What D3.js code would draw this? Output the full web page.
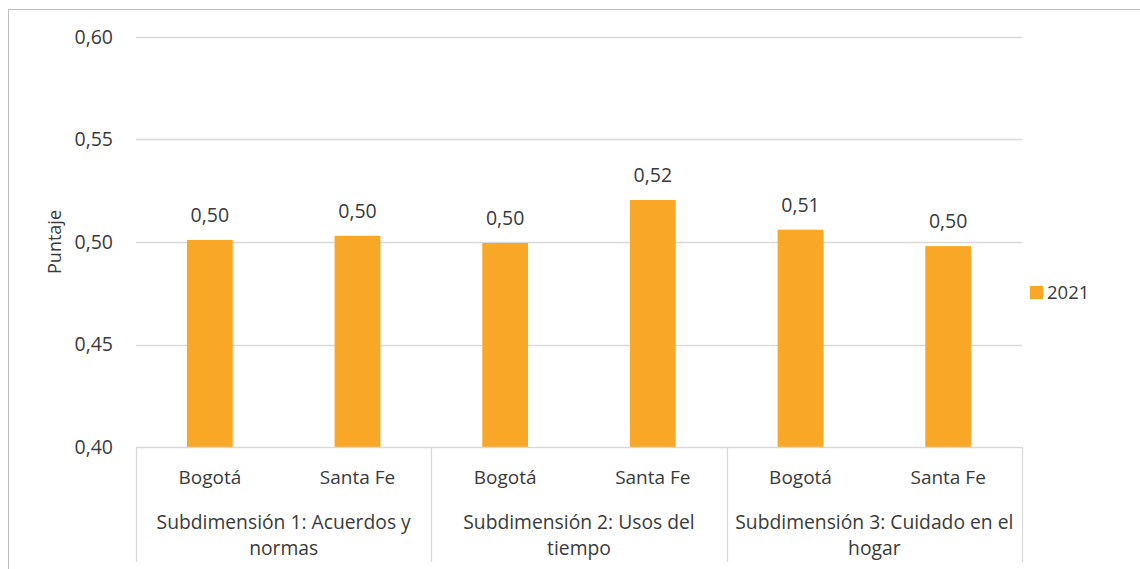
<!DOCTYPE html>
<html><head><meta charset="utf-8">
<script src="https://cdn.jsdelivr.net/npm/d3@7"></script>
<style>
html,body{margin:0;padding:0;background:#fff;}
svg{display:block;font-family:"Open Sans",sans-serif;}
</style></head>
<body><svg id="c" width="1140" height="569"></svg>
<script>
const categories = ["Bogotá","Santa Fe","Bogotá","Santa Fe","Bogotá","Santa Fe"];
const groupIndex = [0,0,1,1,2,2];
const groups = [
  ["Subdimensión 1: Acuerdos y","normas"],
  ["Subdimensión 2: Usos del","tiempo"],
  ["Subdimensión 3: Cuidado en el","hogar"]
];
const values2021 = [0.501,0.503,0.4995,0.5205,0.506,0.498];
const dataLabels = ["0,50","0,50","0,50","0,52","0,51","0,50"];
const yTicks = [0.40,0.45,0.50,0.55,0.60];
const seriesName = "2021";

const svg = d3.select("#c");
const textCol = "#3a3a3a";
const barCol = "#F8A826";
const gridCol = "#d9d9d9";

// outer border
svg.append("rect").attr("x",8.5).attr("y",9.5).attr("width",1140).attr("height",600)
  .attr("fill","none").attr("stroke","#bfbfbf").attr("stroke-width",1);

const pLeft = 136, pRight = 1022, pTop = 37, pBottom = 447;
const y = d3.scaleLinear().domain([0.40,0.60]).range([pBottom, pTop]);
const idx = categories.map((d,i)=>i);
const x = d3.scaleBand().domain(idx).range([pLeft,pRight]).paddingInner(0.69).paddingOuter(0.345);
const xg = d3.scaleBand().domain([0,1,2]).range([pLeft,pRight]).padding(0);

// gridlines
svg.append("g").selectAll("line").data(yTicks.slice(1)).join("line")
  .attr("x1",pLeft).attr("x2",pRight)
  .attr("y1",d=>Math.round(y(d))+0.5).attr("y2",d=>Math.round(y(d))+0.5)
  .attr("stroke",gridCol).attr("stroke-width",1.3);

// y tick labels
const fmt = d => d.toFixed(2).replace(".",",");
svg.append("g").selectAll("text").data(yTicks).join("text")
  .attr("x",113).attr("y",d=>y(d)).attr("dy","0.35em")
  .attr("text-anchor","end").attr("font-size",19.5).attr("fill",textCol)
  .text(fmt);

// bars
svg.append("g").selectAll("rect").data(values2021).join("rect")
  .attr("x",(d,i)=>x(i)).attr("width",x.bandwidth())
  .attr("y",d=>y(d)).attr("height",d=>pBottom-y(d))
  .attr("fill",barCol);

// data labels
svg.append("g").selectAll("text").data(values2021).join("text")
  .attr("x",(d,i)=>x(i)+x.bandwidth()/2).attr("y",d=>y(d)-25).attr("dy","0.35em")
  .attr("text-anchor","middle").attr("font-size",19.5).attr("fill",textCol)
  .text((d,i)=>dataLabels[i]);

// x axis line
svg.append("line").attr("x1",pLeft).attr("x2",pRight).attr("y1",pBottom+0.5).attr("y2",pBottom+0.5)
  .attr("stroke",gridCol).attr("stroke-width",1.3);
// group separators
const seps = [0,1,2].map(g=>xg(g)).concat([pRight]);
svg.append("g").selectAll("line").data(seps).join("line")
  .attr("x1",d=>Math.round(d)+0.5).attr("x2",d=>Math.round(d)+0.5)
  .attr("y1",pBottom).attr("y2",562)
  .attr("stroke",gridCol).attr("stroke-width",1.3);

// category labels
svg.append("g").selectAll("text").data(categories).join("text")
  .attr("x",(d,i)=>x(i)+x.bandwidth()/2).attr("y",477).attr("dy","0.35em")
  .attr("text-anchor","middle").attr("font-size",19).attr("fill",textCol)
  .text(d=>d);

// group labels
const gl = svg.append("g").selectAll("text").data(groups).join("text")
  .attr("text-anchor","middle").attr("font-size",19.3).attr("fill",textCol);
gl.each(function(lines,g){
  d3.select(this).selectAll("tspan").data(lines).join("tspan")
    .attr("x",xg(g)+xg.bandwidth()/2).attr("y",(d,k)=>522+k*26).attr("dy","0.35em")
    .text(d=>d);
});

// y axis title
svg.append("text").attr("transform","translate(55,242) rotate(-90)")
  .attr("text-anchor","middle").attr("dy","0.35em").attr("font-size",18).attr("fill",textCol)
  .text("Puntaje");

// legend
svg.append("rect").attr("x",1030).attr("y",286).attr("width",13).attr("height",13).attr("fill",barCol);
svg.append("text").attr("x",1047).attr("y",292.5).attr("dy","0.35em").attr("font-size",18.5).attr("fill",textCol).text(seriesName);
</script></body></html>
